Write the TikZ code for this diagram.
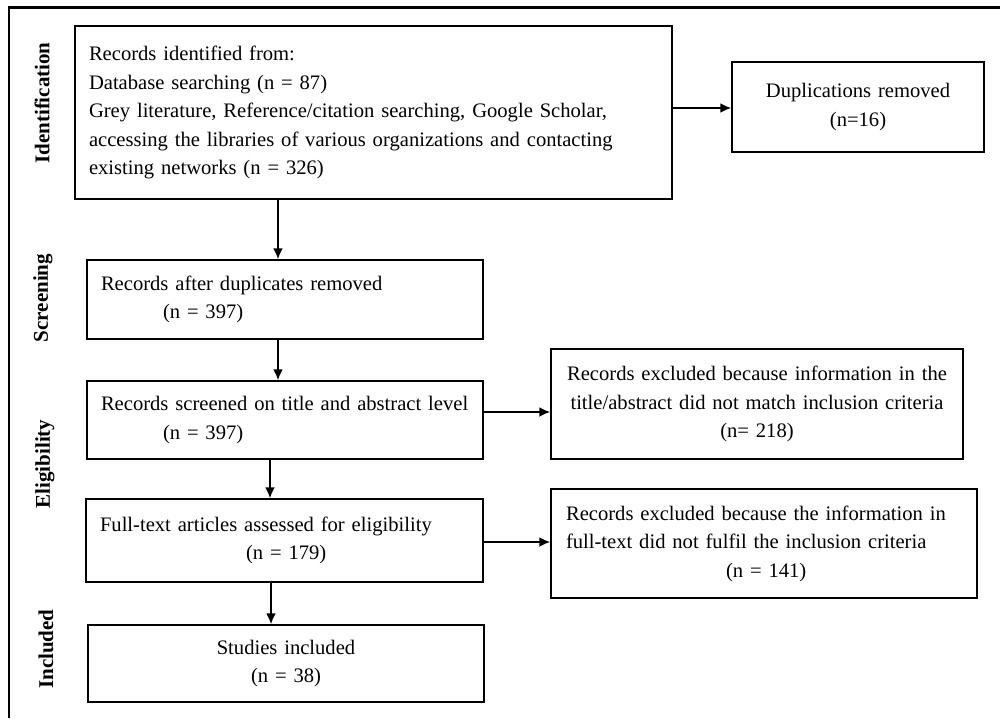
\documentclass[tikz,border=0pt]{standalone}
\usepackage{fontspec}
\setmainfont{Liberation Serif}
\usetikzlibrary{arrows.meta}
\newcommand\nohyph{\hyphenpenalty=10000\relax\exhyphenpenalty=10000\relax\hbadness=10000\relax\hfuzz=50pt\relax}
\begin{document}
\begin{tikzpicture}[x=1pt,y=-1pt,
  box/.style={draw, line width=1.4pt, rectangle, inner xsep=14pt, inner ysep=0pt,
    font=\fontsize{20.6}{28.5}\selectfont},
  stage/.style={rotate=90, font=\fontsize{21}{24}\selectfont\bfseries, inner sep=0pt},
  arr/.style={line width=2pt, -{Latex[length=11pt,width=10pt]}}]
\useasboundingbox (0,0) rectangle (1000,718);
% frame
\draw[line width=2pt] (9,718) -- (9,7);
\draw[line width=3pt] (8,7) -- (1000,7);
% stage labels
\node[stage] (lid) at (42,103) {Identification};
\node[stage] (lsc) at (43,298) {Screening};
\node[stage] (lel) at (45,464) {Eligibility};
\node[stage] (lin) at (46,649) {Included};
% boxes
\node[box, minimum width=597pt, minimum height=173pt, text width=569pt, align=left] (b1) at (373.5,112.5)
  {\nohyph Records identified from:\\Database searching (n = 87)\\\mbox{Grey literature, Reference/citation searching, Google Scholar,}\\\mbox{accessing the libraries of various organizations and contacting}\\existing networks (n = 326)};
\node[box, minimum width=252pt, minimum height=90pt, inner xsep=6pt, text width=240pt, align=center] (dup) at (858,107)
  {Duplications removed\\(n=16)};
\node[box, minimum width=396pt, minimum height=79pt, text width=368pt, align=left] (b2) at (285,299.5)
  {\nohyph \mbox{Records after duplicates removed}\\\hspace*{62pt}(n = 397)};
\node[box, minimum width=396pt, minimum height=78pt, text width=368pt, align=left] (b3) at (285,420)
  {\nohyph \mbox{Records screened on title and abstract level}\\\hspace*{62pt}(n = 397)};
\node[box, minimum width=412pt, minimum height=110pt, inner xsep=4pt, text width=404pt, align=center] (b4) at (757,404)
  {\nohyph Records excluded because information in the\\title/abstract did not match inclusion criteria\\(n= 218)};
\node[box, minimum width=397pt, minimum height=83pt, text width=369pt, align=left] (b5) at (284.5,540.5)
  {\nohyph \mbox{Full-text articles assessed for eligibility}\\\hspace*{146pt}(n = 179)};
\node[box, minimum width=426pt, minimum height=109pt, inner xsep=15pt, text width=396pt, align=left] (b6) at (764,543.5)
  {\nohyph \mbox{Records excluded because the information in}\\\mbox{full-text did not fulfil the inclusion criteria}\\\hspace*{160pt}(n = 141)};
\node[box, minimum width=396pt, minimum height=77pt, text width=368pt, align=center] (b7) at (286,663.5)
  {Studies included\\(n = 38)};
% connectors
\draw[arr] (b1.east |- 0,108) -- (dup.west |- 0,108);
\draw[arr] (b1.south -| 278,0) -- (b2.north -| 278,0);
\draw[arr] (b2.south -| 278,0) -- (b3.north -| 278,0);
\draw[arr] (b3.east |- 0,412) -- (b4.west |- 0,412);
\draw[arr] (b3.south -| 270,0) -- (b5.north -| 270,0);
\draw[arr] (b5.east |- 0,542) -- (b6.west |- 0,542);
\draw[arr] (b5.south -| 271,0) -- (b7.north -| 271,0);
\end{tikzpicture}
\end{document}
